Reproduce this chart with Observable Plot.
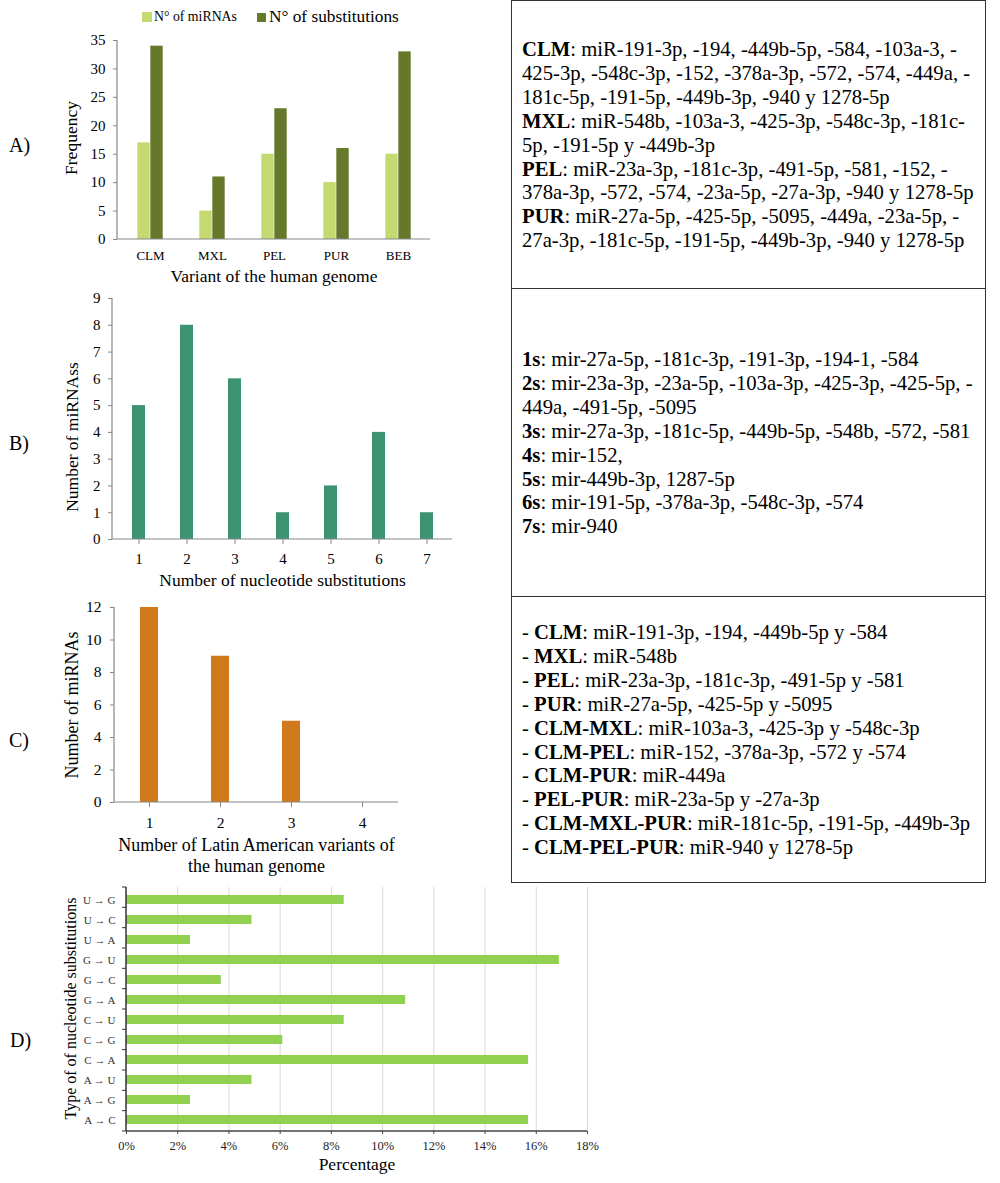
<!DOCTYPE html>
<html>
<head>
<meta charset="utf-8">
<script src="https://cdn.jsdelivr.net/npm/d3@7"></script>
<script src="https://cdn.jsdelivr.net/npm/@observablehq/plot@0.6"></script>
<style>
  body { margin: 0; background: #fff; }
  #root { position: relative; width: 1000px; height: 1183px; overflow: hidden;
          font-family: "Liberation Serif", "Times New Roman", serif; color: #000; }
  .box { position: absolute; box-sizing: border-box; border: 1.5px solid #333; }
  .txt { position: absolute; left: 522px; font-size: 20.7px; line-height: 23.9px; white-space: nowrap; }
  .lab { position: absolute; left: 9px; font-size: 20px; line-height: 20px; }
  .sw { position: absolute; }
  .leg { position: absolute; white-space: nowrap; line-height: 1; }
  svg.chart { position: absolute; left: 0; }
</style>
</head>
<body>
<div id="root"></div>
<script>
// ---------- data ----------
const variants = ["CLM", "MXL", "PEL", "PUR", "BEB"];
const nMiRNAs = [17, 5, 15, 10, 15];
const nSubstitutions = [34, 11, 23, 16, 33];
const freqTicks = [0, 5, 10, 15, 20, 25, 30, 35];

const nucleotideSubs = [1, 2, 3, 4, 5, 6, 7];
const miRNAsPerSubs = [5, 8, 6, 1, 2, 4, 1];
const subsTicks = [0, 1, 2, 3, 4, 5, 6, 7, 8, 9];

const latinVariants = [1, 2, 3, 4];
const miRNAsPerVariants = [12, 9, 5, 0];
const variantTicks = [0, 2, 4, 6, 8, 10, 12];

const substitutionTypes = ["U → G", "U → C", "U → A", "G → U", "G → C", "G → A",
                           "C → U", "C → G", "C → A", "A → U", "A → G", "A → C"];
const substitutionPct = [8.5, 4.9, 2.5, 16.9, 3.7, 10.9, 8.5, 6.1, 15.7, 4.9, 2.5, 15.7];
const pctTicks = [0, 2, 4, 6, 8, 10, 12, 14, 16, 18];

const box1Lines = [
  "<b>CLM</b>: miR-191-3p, -194, -449b-5p, -584, -103a-3, -",
  "425-3p, -548c-3p, -152, -378a-3p, -572, -574, -449a, -",
  "181c-5p, -191-5p, -449b-3p, -940 y 1278-5p",
  "<b>MXL</b>: miR-548b, -103a-3, -425-3p, -548c-3p, -181c-",
  "5p, -191-5p y -449b-3p",
  "<b>PEL</b>: miR-23a-3p, -181c-3p, -491-5p, -581, -152, -",
  "378a-3p, -572, -574, -23a-5p, -27a-3p, -940 y 1278-5p",
  "<b>PUR</b>: miR-27a-5p, -425-5p, -5095, -449a, -23a-5p, -",
  "27a-3p, -181c-5p, -191-5p, -449b-3p, -940 y 1278-5p"
];
const box2Lines = [
  "<b>1s</b>: mir-27a-5p, -181c-3p, -191-3p, -194-1, -584",
  "<b>2s</b>: mir-23a-3p, -23a-5p, -103a-3p, -425-3p, -425-5p, -",
  "449a, -491-5p, -5095",
  "<b>3s</b>: mir-27a-3p, -181c-5p, -449b-5p, -548b, -572, -581",
  "<b>4s</b>: mir-152,",
  "<b>5s</b>: mir-449b-3p, 1287-5p",
  "<b>6s</b>: mir-191-5p, -378a-3p, -548c-3p, -574",
  "<b>7s</b>: mir-940"
];
const box3Lines = [
  "- <b>CLM</b>: miR-191-3p, -194, -449b-5p y -584",
  "- <b>MXL</b>: miR-548b",
  "- <b>PEL</b>: miR-23a-3p, -181c-3p, -491-5p y -581",
  "- <b>PUR</b>: miR-27a-5p, -425-5p y -5095",
  "- <b>CLM-MXL</b>: miR-103a-3, -425-3p y -548c-3p",
  "- <b>CLM-PEL</b>: miR-152, -378a-3p, -572 y -574",
  "- <b>CLM-PUR</b>: miR-449a",
  "- <b>PEL-PUR</b>: miR-23a-5p y -27a-3p",
  "- <b>CLM-MXL-PUR</b>: miR-181c-5p, -191-5p, -449b-3p",
  "- <b>CLM-PEL-PUR</b>: miR-940 y 1278-5p"
];

// ---------- helpers ----------
const NS = "http://www.w3.org/2000/svg";
const FONT = "'Liberation Serif', 'Times New Roman', serif";
function svgLine(x1, y1, x2, y2, stroke, w) {
  const l = document.createElementNS(NS, "line");
  l.setAttribute("x1", x1); l.setAttribute("y1", y1);
  l.setAttribute("x2", x2); l.setAttribute("y2", y2);
  l.setAttribute("stroke", stroke); l.setAttribute("stroke-width", w || 1);
  return l;
}
function leftLine(stroke, w) {
  return (index, scales, values, d) =>
    svgLine(d.marginLeft, d.marginTop, d.marginLeft, d.height - d.marginBottom, stroke, w);
}
function bottomLine(stroke, w) {
  return (index, scales, values, d) =>
    svgLine(d.marginLeft, d.height - d.marginBottom, d.width - d.marginRight, d.height - d.marginBottom, stroke, w);
}
function bandBoundaryTicks(n, len, stroke) {
  return (index, scales, values, d) => {
    const g = document.createElementNS(NS, "g");
    const top = d.marginTop, bottom = d.height - d.marginBottom;
    for (let k = 0; k <= n; k++) {
      const y = top + (bottom - top) * k / n;
      g.appendChild(svgLine(d.marginLeft - len, y, d.marginLeft, y, stroke, 1));
    }
    return g;
  };
}
const root = document.getElementById("root");
function place(svg, top) {
  svg.classList.add("chart");
  svg.style.top = top + "px";
  root.appendChild(svg);
}
function addDiv(cls, style, html) {
  const d = document.createElement("div");
  d.className = cls;
  Object.assign(d.style, style);
  d.innerHTML = html;
  root.appendChild(d);
  return d;
}

const AXIS_GRAY = "#878787";

// ---------- Panel A ----------
const dataA = variants.map((v, i) => ({variant: v, mirnas: nMiRNAs[i], subs: nSubstitutions[i]}));
const dimA = {width: 510, height: 290, marginLeft: 117, marginRight: 80, marginTop: 40, marginBottom: 51};
const stepA = (dimA.width - dimA.marginLeft - dimA.marginRight) / variants.length;
const barWA = 13;
const colLight = "#c4d96f", colDark = "#66792b";
place(Plot.plot({
  ...dimA,
  style: {fontFamily: FONT, background: "transparent", color: "#000", overflow: "visible"},
  x: {domain: variants, padding: 0},
  y: {domain: [0, 35]},
  marks: [
    Plot.barY(dataA, {x: "variant", y: "mirnas", fill: colLight, insetLeft: stepA / 2 - barWA, insetRight: stepA / 2}),
    Plot.barY(dataA, {x: "variant", y: "subs", fill: colDark, insetLeft: stepA / 2, insetRight: stepA / 2 - barWA}),
    Plot.axisY({ticks: freqTicks, tickSize: 4, tickPadding: 8, fontSize: 15, stroke: AXIS_GRAY, fill: "#000", label: null}),
    Plot.axisX({tickSize: 0, tickPadding: 11, fontSize: 13, fill: "#000", label: null}),
    bottomLine(AXIS_GRAY, 1.2),
    leftLine(AXIS_GRAY, 1.2),
    Plot.text(["Frequency"], {frameAnchor: "left", rotate: -90, dx: -46, dy: -2, fontSize: 17.5, textAnchor: "middle", lineAnchor: "middle", fill: "#000"}),
    Plot.text(["Variant of the human genome"], {frameAnchor: "bottom", dy: 37, fontSize: 17.5, lineAnchor: "middle", fill: "#000"})
  ]
}), 0);

// legend A
addDiv("sw", {left: "142px", top: "12px", width: "10px", height: "10px", background: colLight}, "");
addDiv("leg", {left: "154px", top: "10px", fontSize: "13.8px"}, "N° of miRNAs");
addDiv("sw", {left: "257px", top: "13px", width: "9px", height: "9px", background: colDark}, "");
addDiv("leg", {left: "269px", top: "8px", fontSize: "17.3px"}, "N° of substitutions");

// ---------- Panel B ----------
const dataB = nucleotideSubs.map((n, i) => ({n, count: miRNAsPerSubs[i]}));
place(Plot.plot({
  width: 510, height: 300, marginLeft: 112, marginRight: 58, marginTop: 8, marginBottom: 51,
  style: {fontFamily: FONT, background: "transparent", color: "#000", overflow: "visible"},
  x: {domain: nucleotideSubs, paddingInner: 0.73, paddingOuter: 0.365},
  y: {domain: [0, 9]},
  marks: [
    Plot.barY(dataB, {x: "n", y: "count", fill: "#3b9371"}),
    Plot.axisY({ticks: subsTicks, tickSize: 4, tickPadding: 8, fontSize: 15, stroke: AXIS_GRAY, fill: "#000", label: null}),
    Plot.axisX({tickSize: 5, tickPadding: 9, fontSize: 15, stroke: AXIS_GRAY, fill: "#000", label: null}),
    bottomLine(AXIS_GRAY, 1.2),
    leftLine(AXIS_GRAY, 1.2),
    Plot.text(["Number of miRNAss"], {frameAnchor: "left", rotate: -90, dx: -40, dy: 18, fontSize: 17.5, textAnchor: "middle", lineAnchor: "middle", fill: "#000"}),
    Plot.text(["Number of nucleotide substitutions"], {frameAnchor: "bottom", dy: 41, fontSize: 17.5, lineAnchor: "middle", fill: "#000"})
  ]
}), 290);

// ---------- Panel C ----------
const dataC = latinVariants.map((n, i) => ({n, count: miRNAsPerVariants[i]}));
place(Plot.plot({
  width: 510, height: 290, marginLeft: 114, marginRight: 112, marginTop: 17, marginBottom: 78,
  style: {fontFamily: FONT, background: "transparent", color: "#000", overflow: "visible"},
  x: {domain: latinVariants, paddingInner: 0.746, paddingOuter: 0.373},
  y: {domain: [0, 12]},
  marks: [
    Plot.barY(dataC, {x: "n", y: "count", fill: "#d17a1c"}),
    Plot.axisY({ticks: variantTicks, tickSize: 4, tickPadding: 9, fontSize: 15.5, stroke: AXIS_GRAY, fill: "#000", label: null}),
    Plot.axisX({tickSize: 5, tickPadding: 9, fontSize: 15.5, stroke: AXIS_GRAY, fill: "#000", label: null}),
    bottomLine(AXIS_GRAY, 1.2),
    leftLine(AXIS_GRAY, 1.2),
    Plot.text(["Number of miRNAs"], {frameAnchor: "left", rotate: -90, dx: -42, dy: 0, fontSize: 18, textAnchor: "middle", lineAnchor: "middle", fill: "#000"}),
    Plot.text(["Number of Latin American variants of\nthe human genome"], {frameAnchor: "bottom", dy: 52.5, fontSize: 18, lineHeight: 1.17, lineAnchor: "middle", fill: "#000"})
  ]
}), 590);

// ---------- Panel D ----------
const dataD = substitutionTypes.map((t, i) => ({type: t, pct: substitutionPct[i]}));
place(Plot.plot({
  width: 620, height: 303, marginLeft: 126, marginRight: 33, marginTop: 7, marginBottom: 52,
  style: {fontFamily: FONT, background: "transparent", color: "#000", overflow: "visible"},
  x: {domain: [0, 18]},
  y: {domain: substitutionTypes, paddingInner: 0.56, paddingOuter: 0.28},
  marks: [
    Plot.gridX({ticks: pctTicks.slice(1), stroke: "#d9d9d9", strokeOpacity: 1, strokeWidth: 1}),
    Plot.barX(dataD, {x: "pct", y: "type", fill: "#92d050"}),
    Plot.axisX({ticks: pctTicks, tickFormat: d => d + "%", tickSize: 3, tickPadding: 7, fontSize: 12.5, stroke: "#444", fill: "#222", label: null}),
    Plot.axisY({tickSize: 0, tickPadding: 11, fontSize: 11, fill: "#333", label: null}),
    bottomLine("#444", 1.3),
    leftLine("#333", 1.5),
    bandBoundaryTicks(substitutionTypes.length, 4, "#333"),
    Plot.text(["Type of of nucleotide substitutions"], {frameAnchor: "left", rotate: -90, dx: -56, dy: -1, fontSize: 16, textAnchor: "middle", lineAnchor: "middle", fill: "#000"}),
    Plot.text(["Percentage"], {frameAnchor: "bottom", dy: 33, fontSize: 17.5, lineAnchor: "middle", fill: "#000"})
  ]
}), 880);

// ---------- panel letters ----------
addDiv("lab", {top: "135px"}, "A)");
addDiv("lab", {top: "433px"}, "B)");
addDiv("lab", {top: "730px"}, "C)");
addDiv("lab", {top: "1030px", left: "10px"}, "D)");

// ---------- text boxes ----------
addDiv("box", {left: "511px", top: "0px", width: "475px", height: "289px"}, "");
addDiv("box", {left: "511px", top: "288px", width: "475px", height: "309px"}, "");
addDiv("box", {left: "511px", top: "596px", width: "475px", height: "287px"}, "");
addDiv("txt", {top: "38px"}, box1Lines.join("<br>"));
addDiv("txt", {top: "348px"}, box2Lines.join("<br>"));
addDiv("txt", {top: "621px"}, box3Lines.join("<br>"));
</script>
</body>
</html>
